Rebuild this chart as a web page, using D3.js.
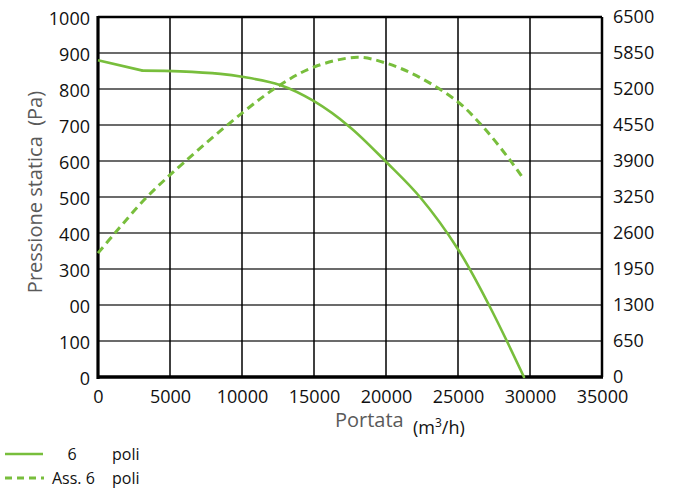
<!DOCTYPE html>
<html><head><meta charset="utf-8">
<script src="https://cdn.jsdelivr.net/npm/d3@7"></script>
<style>body{margin:0;background:#fff}svg{display:block}text{font-family:"Open Sans",sans-serif}</style>
</head><body><svg id="c" width="674" height="490"></svg>
<script>
const xTicks = [0,5000,10000,15000,20000,25000,30000,35000];
const yLeftTicks = [0,100,200,300,400,500,600,700,800,900,1000];
const yLeftLabels = ["0","100","00","300","400","500","600","700","800","900","1000"];
const yRightTicks = [0,650,1300,1950,2600,3250,3900,4550,5200,5850,6500];
// Pressione statica (Pa) - 6 poli
const pressFlow = [0,3100,5700,8500,10000,12640,15000,17500,20000,22400,25000,27150,29580];
const pressVal  = [880,851,849,842,834,811,766,694,598,498,355,200,0];
// Assorbimento (right axis) - Ass. 6 poli
const assFlow = [0,1180,3400,6000,10000,12640,15000,18000,20000,22300,25000,26800,28600,29500];
const assVal  = [2236,2600,3250,3880,4765,5272,5597,5772,5668,5415,4966,4498,3920,3595];
const legendLabels = [["6","poli"],["Ass. 6","poli"]];

const svg = d3.select("#c");
const L=98,R=602,T=17,B=377;
const x = d3.scaleLinear().domain([0,35000]).range([L,R]);
const yL = d3.scaleLinear().domain([0,1000]).range([B,T]);
const yR = d3.scaleLinear().domain([0,6500]).range([B,T]);
const green = "#78be3c";

// grid
svg.append("g").selectAll("line").data(yLeftTicks).join("line")
  .attr("x1",L).attr("x2",R).attr("y1",d=>yL(d)).attr("y2",d=>yL(d))
  .attr("stroke","#3a3a3a").attr("stroke-width",1.6);
svg.append("g").selectAll("line").data(xTicks).join("line")
  .attr("y1",T).attr("y2",B).attr("x1",d=>x(d)).attr("x2",d=>x(d))
  .attr("stroke","#000").attr("stroke-width",1.5);

// axes with d3 (labels only)
const axL = d3.axisLeft(yL).tickValues(yLeftTicks).tickSize(0).tickPadding(8).tickFormat((d,i)=>yLeftLabels[i]);
const axR = d3.axisRight(yR).tickValues(yRightTicks).tickSize(0).tickPadding(11).tickFormat(d3.format("d"));
const axB = d3.axisBottom(x).tickValues(xTicks).tickSize(0).tickPadding(13).tickFormat(d3.format("d"));
[svg.append("g").attr("transform",`translate(${L},1.5)`).call(axL),
 svg.append("g").attr("transform",`translate(${R},0)`).call(axR),
 svg.append("g").attr("transform",`translate(0,${B})`).call(axB)].forEach(g=>{
  g.select(".domain").remove();
  g.selectAll("text").attr("font-size",18).attr("fill","#111").style("font-family","'Open Sans',sans-serif");
});

// frame
svg.append("line").attr("x1",L).attr("x2",R).attr("y1",T).attr("y2",T).attr("stroke","#000").attr("stroke-width",2.5);
svg.append("line").attr("x1",R).attr("x2",R).attr("y1",T).attr("y2",B).attr("stroke","#000").attr("stroke-width",2.5);
svg.append("line").attr("x1",L).attr("x2",L).attr("y1",T-1).attr("y2",B+2).attr("stroke","#000").attr("stroke-width",3.2);
svg.append("line").attr("x1",L-1).attr("x2",R+1).attr("y1",B).attr("y2",B).attr("stroke","#000").attr("stroke-width",3.5);

// curves
const pressPts = pressFlow.map((f,i)=>[f,pressVal[i]]);
const lineLin = d3.line().x(d=>x(d[0])).y(d=>yL(d[1]));
const lineP = d3.line().x(d=>x(d[0])).y(d=>yL(d[1])).curve(d3.curveCatmullRom.alpha(0.5));
const lineA = d3.line().x(d=>x(d[0])).y(d=>yR(d[1])).curve(d3.curveCatmullRom.alpha(0.5));
svg.append("path").datum(pressPts.slice(0,2)).attr("d",lineLin)
  .attr("fill","none").attr("stroke",green).attr("stroke-width",2.6).attr("stroke-linejoin","round");
svg.append("path").datum(pressPts.slice(1)).attr("d",lineP)
  .attr("fill","none").attr("stroke",green).attr("stroke-width",2.6).attr("stroke-linecap","round");
svg.append("path").datum(assFlow.map((f,i)=>[f,assVal[i]])).attr("d",lineA)
  .attr("fill","none").attr("stroke",green).attr("stroke-width",3).attr("stroke-dasharray","8,5");

// titles
svg.append("text").attr("x",335).attr("y",427).attr("font-size",20).attr("fill","#5a5a5a").text("Portata");
const u = svg.append("text").attr("x",413).attr("y",434).attr("font-size",18).attr("fill","#111");
u.append("tspan").text("(m");
u.append("tspan").attr("dy",-7).attr("font-size",12).text("3");
u.append("tspan").attr("dy",7).text("/h)");
svg.append("text").attr("transform","translate(42,192) rotate(-90)").attr("text-anchor","middle")
  .attr("font-size",20).attr("fill","#5a5a5a").attr("xml:space","preserve").style("white-space","pre")
  .text("Pressione statica  (Pa)");

// legend
const lg = svg.append("g");
lg.append("line").attr("x1",5).attr("x2",43).attr("y1",454).attr("y2",454).attr("stroke",green).attr("stroke-width",2.6);
lg.append("line").attr("x1",5).attr("x2",44).attr("y1",478).attr("y2",478).attr("stroke",green).attr("stroke-width",3).attr("stroke-dasharray","7,5");
lg.append("text").attr("x",72).attr("y",460).attr("text-anchor","middle").attr("font-size",16).attr("fill","#111").text(legendLabels[0][0]);
lg.append("text").attr("x",112).attr("y",460).attr("font-size",16).attr("fill","#111").text(legendLabels[0][1]);
lg.append("text").attr("x",52).attr("y",484).attr("font-size",16).attr("fill","#111").attr("xml:space","preserve").style("white-space","pre").text(legendLabels[1][0]);
lg.append("text").attr("x",112).attr("y",484).attr("font-size",16).attr("fill","#111").text(legendLabels[1][1]);
</script></body></html>
